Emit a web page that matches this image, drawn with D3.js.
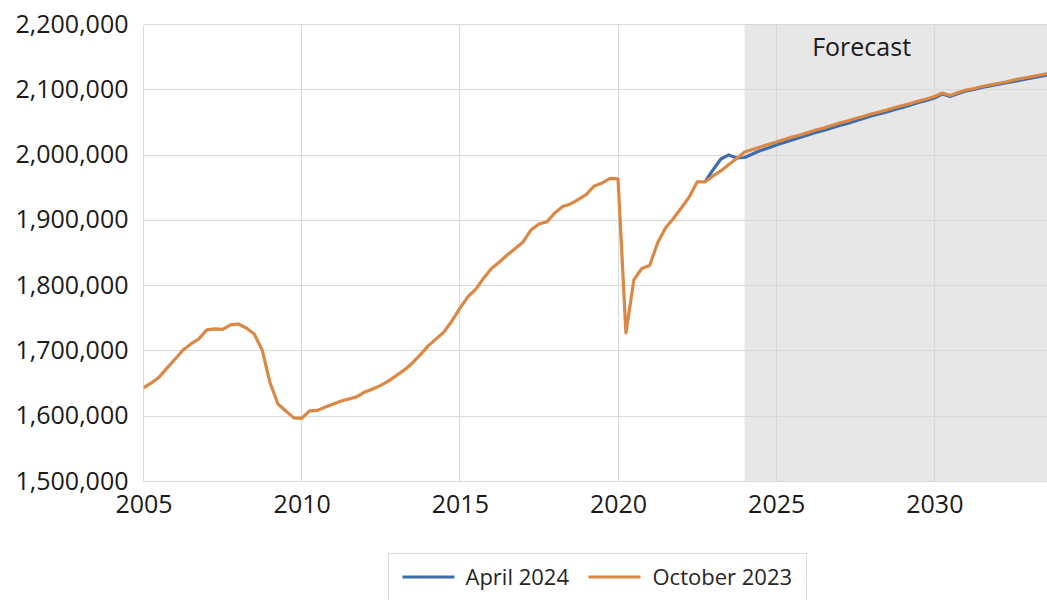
<!DOCTYPE html>
<html lang="en">
  <head>
    <meta charset="utf-8">
    <title>Forecast chart</title>
    <script src="https://cdnjs.cloudflare.com/ajax/libs/d3/7.8.5/d3.min.js"></script>
    <style>
      html, body {
        margin: 0px;
        padding: 0px;
        background: #fff;
      }
      svg {
        display: block;
        font-family: "Open Sans", sans-serif;
      }
      .grid line {
        stroke: #d9d9d9;
        stroke-width: 1;
        shape-rendering: crispEdges;
      }
      .axis text {
        fill: #1a1a1a;
        font-family: "Open Sans", sans-serif;
        font-size: 25px;
      }
      .series {
        fill: none;
        stroke-width: 3.2;
        stroke-linejoin: round;
      }
    </style>
  </head>
  <body>
    <div id="chart"></div>
    <script>
      // quarterly series, first value is the first quarter of startYear
      var seriesNames = ["April 2024", "October 2023"];
      var seriesColors = ["#3f6cac", "#da8843"];

      var oct2023Start = 2005;
      var oct2023 = [
        1643300, 1651000, 1660200, 1674000, 1687700, 1701500, 1710700, 1718400,
        1732200, 1733700, 1732900, 1739800, 1741300, 1735200, 1726000, 1701500,
        1651000, 1618800, 1608100, 1597400, 1596600, 1608100, 1608900, 1614200,
        1618800, 1623400, 1626500, 1630000, 1637200, 1641800, 1647200, 1654100,
        1662500, 1670900, 1681600, 1693900, 1707700, 1718400, 1729100, 1745900,
        1765100, 1782700, 1794200, 1811300, 1826300, 1836300, 1847000, 1857000,
        1866900, 1885300, 1894500, 1897600, 1911300, 1921300, 1925100, 1932300,
        1939700, 1952700, 1957300, 1964200, 1963400, 1727600, 1808700, 1826300,
        1830900, 1865400, 1888400, 1902900, 1919000, 1935800, 1958800, 1958800,
        1968000, 1975700, 1985600, 1994800, 2004700, 2008600, 2012400, 2016200,
        2020100, 2023900, 2027700, 2030800, 2034600, 2038400, 2041500, 2045300,
        2049200, 2052200, 2056100, 2059100, 2062900, 2066000, 2069100, 2072900,
        2076000, 2079000, 2082900, 2085900, 2089700, 2095100, 2091300, 2095900,
        2099700, 2102000, 2105100, 2107400, 2109700, 2111900, 2115000, 2117300,
        2119600, 2121900, 2124200, 2126500
      ];

      var apr2024Start = 2022.75;
      var apr2024 = [
        1958800, 1977200, 1994000, 2000200, 1995600, 1996300, 2001700, 2007000,
        2010900, 2015500, 2019300, 2023100, 2027000, 2030800, 2034600, 2037700,
        2041500, 2045300, 2048400, 2052200, 2056100, 2059900, 2062900, 2066000,
        2069800, 2072900, 2076700, 2080600, 2083600, 2087400, 2093600, 2089700,
        2094300, 2098200, 2100500, 2103500, 2105800, 2108100, 2110400, 2112700,
        2115000, 2117300, 2119600, 2121900, 2124200
      ];

      var yTicks = [1500000, 1600000, 1700000, 1800000, 1900000, 2000000, 2100000, 2200000];
      var xTicks = [2005, 2010, 2015, 2020, 2025, 2030];
      var forecastStart = 2024;
      var forecastLabel = "Forecast";

      function toPoints(start, values) {
        return values.map(function(v, i) {
          return {t: start + i * 0.25, v: v};
        });
      }

      var width = 1047, height = 600;
      var m = {top: 24.5, right: 0, bottom: 118.5, left: 143.5};
      var w = width - m.left - m.right,
          h = height - m.top - m.bottom;

      var x = d3.scaleLinear().domain([2005, 2033.56]).range([0, w]);
      var y = d3.scaleLinear().domain([1500000, 2200000]).range([h, 0]);

      var svg = d3.select("#chart").append("svg")
          .attr("width", width)
          .attr("height", height);

      svg.append("defs").append("clipPath")
          .attr("id", "plotclip")
        .append("rect")
          .attr("x", 0).attr("y", -5)
          .attr("width", w).attr("height", h + 10);

      var g = svg.append("g")
          .attr("transform", "translate(" + m.left + "," + m.top + ")");

      // forecast shading
      g.append("rect")
          .attr("x", Math.round(x(forecastStart)))
          .attr("y", 0)
          .attr("width", w - Math.round(x(forecastStart)))
          .attr("height", h)
          .attr("fill", "#e7e7e7");

      // gridlines
      var grid = g.append("g").attr("class", "grid");
      grid.selectAll(".hline")
          .data(yTicks)
          .enter().append("line")
          .attr("class", "hline")
          .attr("x1", 0).attr("x2", w)
          .attr("y1", function(d) { return y(d); })
          .attr("y2", function(d) { return y(d); });
      grid.selectAll(".vline")
          .data(xTicks)
          .enter().append("line")
          .attr("class", "vline")
          .attr("y1", 0).attr("y2", h)
          .attr("x1", function(d) { return x(d); })
          .attr("x2", function(d) { return x(d); });

      // axes (labels only)
      var yAxis = g.append("g")
          .attr("class", "axis")
          .call(d3.axisLeft(y).tickValues(yTicks).tickFormat(d3.format(",")).tickSize(0).tickPadding(15));
      yAxis.select(".domain").remove();
      yAxis.selectAll("text").attr("dy", "0.3em");

      var xAxis = g.append("g")
          .attr("class", "axis")
          .attr("transform", "translate(0," + h + ")")
          .call(d3.axisBottom(x).tickValues(xTicks).tickFormat(d3.format("d")).tickSize(0).tickPadding(14));
      xAxis.select(".domain").remove();
      xAxis.selectAll("text").attr("dy", "0.71em");

      g.append("text")
          .attr("x", x(2027.7))
          .attr("y", 31)
          .attr("text-anchor", "middle")
          .attr("fill", "#1a1a1a")
          .style("font-size", "25px")
          .text(forecastLabel);

      var line = d3.line()
          .x(function(d) { return x(d.t); })
          .y(function(d) { return y(d.v); });

      var lines = g.append("g").attr("clip-path", "url(#plotclip)");
      lines.append("path")
          .attr("class", "series")
          .attr("stroke", seriesColors[0])
          .attr("d", line(toPoints(apr2024Start, apr2024)));
      lines.append("path")
          .attr("class", "series")
          .attr("stroke", seriesColors[1])
          .attr("d", line(toPoints(oct2023Start, oct2023)));

      // legend
      var legend = svg.append("g").attr("transform", "translate(388.5,553.5)");
      legend.append("rect")
          .attr("width", 418).attr("height", 60)
          .attr("fill", "#fff")
          .attr("stroke", "#d9d9d9");
      var items = [{x: 14, tx: 77}, {x: 200, tx: 264}];
      items.forEach(function(it, i) {
        legend.append("line")
            .attr("x1", it.x).attr("x2", it.x + 52)
            .attr("y1", 23.5).attr("y2", 23.5)
            .attr("stroke", seriesColors[i])
            .attr("stroke-width", 3);
        legend.append("text")
            .attr("x", it.tx)
            .attr("y", 31)
            .attr("fill", "#262626")
            .style("font-size", "22px")
            .text(seriesNames[i]);
      });
    </script>
  </body>
</html>
